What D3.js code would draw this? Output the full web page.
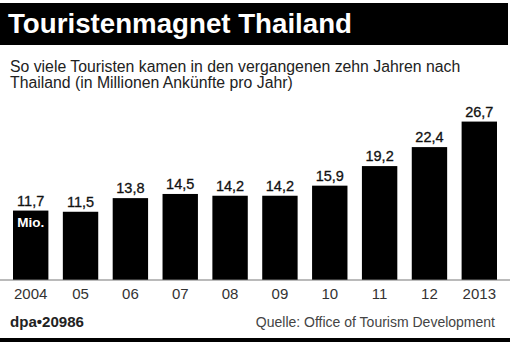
<!DOCTYPE html>
<html><head><meta charset="utf-8">
<script src="https://cdn.jsdelivr.net/npm/d3@7"></script>
<style>
html,body{margin:0;padding:0;background:#fff;}
svg{display:block;font-family:"Liberation Sans",Arial,Helvetica,sans-serif;}
</style></head>
<body>
<svg id="c" width="512" height="344"></svg>
<script>
const years = ["2004","05","06","07","08","09","10","11","12","2013"];
const values = [11.7,11.5,13.8,14.5,14.2,14.2,15.9,19.2,22.4,26.7];
const valueLabels = ["11,7","11,5","13,8","14,5","14,2","14,2","15,9","19,2","22,4","26,7"];
const title = "Touristenmagnet Thailand";
const subtitleLines = ["So viele Touristen kamen in den vergangenen zehn Jahren nach","Thailand (in Millionen Ankünfte pro Jahr)"];
const unitLabel = "Mio.";
const creditLeft = "dpa•20986";
const creditRight = "Quelle: Office of Tourism Development";

const svg = d3.select("#c");
svg.append("rect").attr("width",512).attr("height",344).attr("fill","#fff");

// title bar
svg.append("rect").attr("x",0).attr("y",3).attr("width",508).attr("height",42).attr("fill","#000");
svg.append("text").attr("x",8).attr("y",33).attr("fill","#fff")
  .attr("font-size",27).attr("font-weight","bold")
  .attr("textLength",344).attr("lengthAdjust","spacingAndGlyphs")
  .text(title);

// subtitle
svg.selectAll("text.sub").data(subtitleLines).join("text").attr("class","sub")
  .attr("x",10).attr("y",(d,i)=>72+i*16).attr("fill","#222").attr("font-size",15.8)
  .text(d=>d);

const x = d3.scaleBand().domain(years).range([13,497]).paddingInner(0.29).paddingOuter(0);
const y = d3.scaleLinear().domain([0,30]).range([280,102]);

svg.selectAll("rect.bar").data(values).join("rect").attr("class","bar")
  .attr("x",(d,i)=>x(years[i])).attr("width",x.bandwidth())
  .attr("y",d=>y(d)).attr("height",d=>y(0)-y(d)).attr("fill","#000");

svg.selectAll("text.val").data(values).join("text").attr("class","val")
  .attr("x",(d,i)=>x(years[i])+x.bandwidth()/2).attr("y",d=>y(d)-5)
  .attr("text-anchor","middle").attr("font-size",14.5).attr("fill","#111")
  .attr("stroke","#111").attr("stroke-width",0.3)
  .text((d,i)=>valueLabels[i]);

svg.append("text").attr("x",x(years[0])+x.bandwidth()/2).attr("y",y(values[0])+16)
  .attr("text-anchor","middle").attr("font-size",13.5).attr("font-weight","bold").attr("fill","#fff")
  .text(unitLabel);

// baseline axis
const axis = d3.axisBottom(x).tickSize(0).tickPadding(8);
const g = svg.append("g").attr("transform","translate(0,280)").call(axis);
g.select(".domain").remove();
g.selectAll("text").attr("font-size",15).attr("fill","#333").attr("font-family","Liberation Sans, Arial, sans-serif");
svg.append("line").attr("x1",0).attr("x2",510).attr("y1",280).attr("y2",280).attr("stroke","#777").attr("stroke-width",1);

// footer
svg.append("text").attr("x",10).attr("y",327).attr("font-size",14.5).attr("font-weight","bold").attr("fill","#222")
  .attr("textLength",74).attr("lengthAdjust","spacingAndGlyphs")
  .text(creditLeft);
svg.append("text").attr("x",495).attr("y",327).attr("text-anchor","end").attr("font-size",14).attr("fill","#444")
  .text(creditRight);
svg.append("rect").attr("x",0).attr("y",338).attr("width",510).attr("height",4).attr("fill","#000");
</script>
</body></html>
